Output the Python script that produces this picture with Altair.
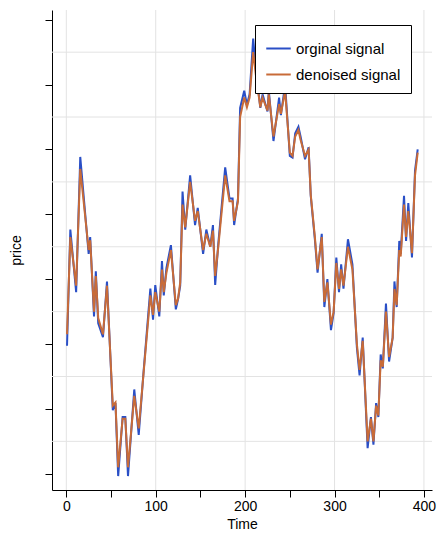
import altair as alt
import pandas as pd

times = [0.8, 4.5, 11, 15.6, 25, 26.7, 31, 33, 35.7, 41, 45.5, 52, 55, 58, 63, 66, 69, 76, 81, 86.4,
         94, 97, 99.5, 104, 107, 109, 112, 117, 122.5, 125, 127.4, 130, 133, 138.5, 144, 147, 153, 156.6, 161, 164,
         166.5, 170, 177.7, 182.5, 186, 187.7, 192, 194.4, 199, 202, 205, 209, 212, 217, 219.5, 225, 226.5, 231.7, 238, 240,
         244.7, 250, 253, 256, 259.6, 262, 267, 271, 273.4, 278, 281, 285.7, 288.6, 292, 296, 299, 302, 305, 307.4, 310,
         315, 320, 325, 328, 331.5, 337, 340.7, 343.5, 346.5, 349, 351.6, 354, 357.5, 361, 365, 367, 369.5, 372.4, 374, 377.7,
         380, 382.5, 386.6, 390, 393]
original = [818.95, 822.53, 820.6, 824.77, 821.78, 822.3, 819.85, 821.24, 819.64, 819.21, 820.93, 816.96, 817.18, 814.93, 816.75, 816.75, 814.93, 817.6, 816.2, 818.14,
            820.71, 819.75, 820.82, 819.85, 821.56, 820.5, 821.35, 822.05, 820.07, 820.39, 820.8, 823.7, 822.53, 824.2, 822.67, 823.2, 821.78, 822.53, 822.0, 822.67,
            820.82, 822.1, 824.45, 823.49, 823.49, 822.67, 823.49, 826.28, 826.81, 826.38, 826.7, 828.42, 827.46, 826.28, 826.7, 826.17, 826.81, 825.26, 826.6, 826.06,
            827.0, 824.8, 824.75, 825.5, 825.7, 825.4, 824.7, 825.07, 823.57, 822.23, 821.2, 822.4, 820.14, 821.0, 819.43, 819.96, 821.67, 820.6, 821.46, 820.71,
            822.23, 821.46, 818.89, 818.03, 819.2, 815.79, 816.75, 815.9, 817.18, 816.75, 818.68, 818.25, 820.25, 818.46, 819.2, 820.93, 820.14, 822.18, 821.78, 823.57,
            822.18, 823.35, 821.67, 824.35, 825.0]
denoised = [819.3, 822.3, 820.8, 824.4, 821.9, 822.2, 820.0, 821.1, 819.8, 819.3, 820.8, 817.1, 817.2, 815.2, 816.7, 816.7, 815.2, 817.4, 816.4, 818.1,
            820.5, 819.9, 820.6, 820.0, 821.3, 820.6, 821.2, 821.9, 820.2, 820.4, 820.9, 823.3, 822.6, 824.0, 822.8, 823.1, 821.9, 822.4, 822.0, 822.5,
            821.1, 822.0, 824.2, 823.4, 823.4, 822.8, 823.4, 826.0, 826.6, 826.3, 826.6, 828.0, 827.3, 826.3, 826.6, 826.2, 826.7, 825.4, 826.4, 826.1,
            826.8, 824.9, 824.8, 825.4, 825.6, 825.3, 824.8, 825.0, 823.6, 822.3, 821.3, 822.3, 820.3, 820.9, 819.6, 820.0, 821.5, 820.7, 821.3, 820.8,
            822.0, 821.3, 819.0, 818.2, 819.1, 816.0, 816.7, 816.0, 817.1, 816.8, 818.5, 818.3, 820.0, 818.6, 819.2, 820.7, 820.2, 821.9, 821.7, 823.3,
            822.3, 823.1, 821.8, 824.2, 824.9]

x_grid = [0, 100, 200, 300, 400]
y_grid = [816, 818, 820, 822, 824, 826, 828]

labels = ["orginal signal", "denoised signal"]
df = pd.concat([
    pd.DataFrame({"Time": times, "price": original, "series": labels[0]}),
    pd.DataFrame({"Time": times, "price": denoised, "series": labels[1]}),
])

xs = alt.Scale(domain=[-16, 409], nice=False, zero=False)
ys = alt.Scale(domain=[814.5, 829.3], nice=False, zero=False)

gx = alt.Chart(pd.DataFrame({"g": x_grid})).mark_rule(color="#e3e3e3", strokeWidth=1).encode(
    x=alt.X("g:Q", scale=xs))
gy = alt.Chart(pd.DataFrame({"g": y_grid})).mark_rule(color="#e3e3e3", strokeWidth=1).encode(
    y=alt.Y("g:Q", scale=ys))

lines = alt.Chart(df).mark_line(strokeWidth=2).encode(
    x=alt.X("Time:Q", scale=xs, title="Time",
            axis=alt.Axis(values=list(range(0, 401, 50)), labelExpr="datum.value % 100 == 0 ? datum.label : ''",
                          labelOverlap=False, grid=False, domainColor="black", tickColor="black", tickSize=7)),
    y=alt.Y("price:Q", scale=ys, title="price",
            axis=alt.Axis(values=list(range(815, 830)), labelExpr="datum.value % 2 == 0 ? datum.label : ''",
                          labelAngle=270, labelAlign="center", labelBaseline="bottom", labelPadding=4,
                          labelOverlap=False, grid=False, domainColor="black", tickColor="black", tickSize=7)),
    color=alt.Color("series:N", sort=labels, title=None,
                    scale=alt.Scale(domain=labels, range=["#2a4fc6", "#c86b38"]),
                    legend=alt.Legend(orient="none", legendX=203, legendY=15, symbolType="stroke",
                                      symbolStrokeWidth=2, symbolSize=600, strokeColor="black",
                                      fillColor="white", padding=10, labelFontSize=15, rowPadding=4,
                                      labelLimit=300)),
    order=alt.Order("series:N", sort="descending"),
)

chart = alt.layer(gx, gy, lines).properties(
    width=380, height=480, autosize=alt.AutoSizeParams(type="none"),
    padding={"left": 44, "top": 2, "right": 6, "bottom": 50},
).configure_view(stroke=None).configure_axis(
    labelFontSize=14, titleFontSize=14, labelColor="black", titleColor="black",
    titleFontWeight="normal", labelFont="Liberation Sans", titleFont="Liberation Sans",
).configure_legend(labelFont="Liberation Sans")

chart.save("out.html", embed_options={"renderer": "svg", "actions": False})
